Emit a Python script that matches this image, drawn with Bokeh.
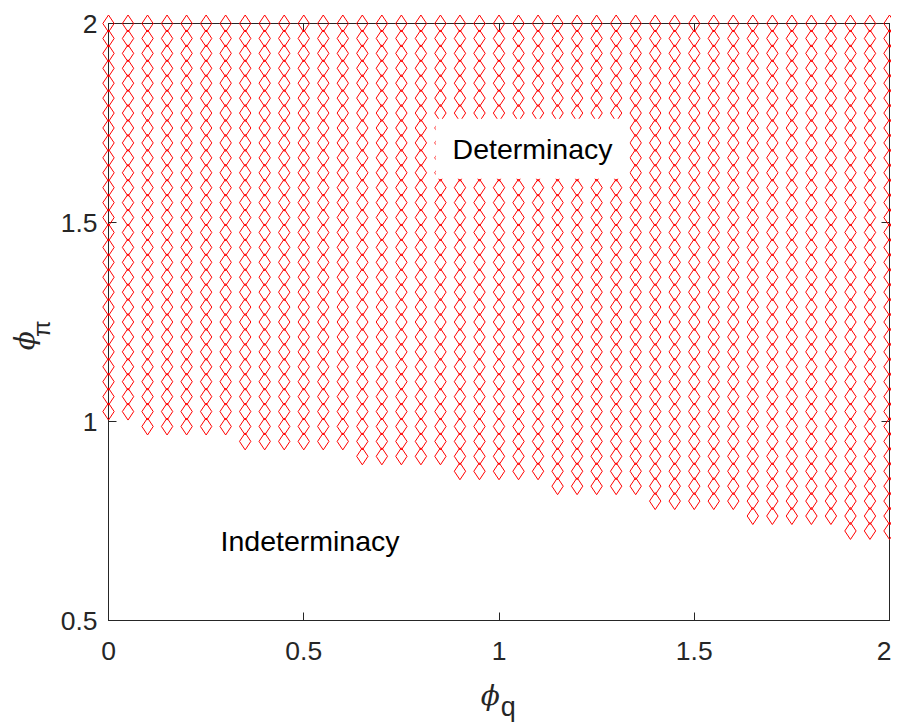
import numpy as np
from bokeh.plotting import figure
from bokeh.models import Label, LinearAxis, FixedTicker, Range1d
from bokeh.core.properties import value
from bokeh.embed import file_html
from bokeh.resources import INLINE

# parameter grid (phi_q on x, phi_pi on y)
phi_q_grid = [0.0, 0.05, 0.1, 0.15, 0.2, 0.25, 0.3, 0.35, 0.4, 0.45, 0.5,
              0.55, 0.6, 0.65, 0.7, 0.75, 0.8, 0.85, 0.9, 0.95, 1.0,
              1.05, 1.1, 1.15, 1.2, 1.25, 1.3, 1.35, 1.4, 1.45, 1.5,
              1.55, 1.6, 1.65, 1.7, 1.75, 1.8, 1.85, 1.9, 1.95, 2.0]
phi_pi_grid = [0.5, 0.5375, 0.575, 0.6125, 0.65, 0.6875, 0.725, 0.7625, 0.8,
               0.8375, 0.875, 0.9125, 0.95, 0.9875, 1.025, 1.0625, 1.1,
               1.1375, 1.175, 1.2125, 1.25, 1.2875, 1.325, 1.3625, 1.4,
               1.4375, 1.475, 1.5125, 1.55, 1.5875, 1.625, 1.6625, 1.7,
               1.7375, 1.775, 1.8125, 1.85, 1.8875, 1.925, 1.9625, 2.0]
# lowest determinate phi_pi for each phi_q column
lowest_determinate_phi_pi = [1.025, 1.025,
                             0.9875, 0.9875, 0.9875, 0.9875, 0.9875,
                             0.95, 0.95, 0.95, 0.95, 0.95, 0.95,
                             0.9125, 0.9125, 0.9125, 0.9125, 0.9125,
                             0.875, 0.875, 0.875, 0.875, 0.875,
                             0.8375, 0.8375, 0.8375, 0.8375, 0.8375,
                             0.8, 0.8, 0.8, 0.8, 0.8,
                             0.7625, 0.7625, 0.7625, 0.7625, 0.7625,
                             0.725, 0.725, 0.725]

x_ticks = [0, 0.5, 1, 1.5, 2]
x_tick_labels = ["0", "0.5", "1", "1.5", "2"]
y_ticks = [0.5, 1, 1.5, 2]
y_tick_labels = ["0.5", "1", "1.5", "2"]

xs, ys = [], []
for q, lo in zip(phi_q_grid, lowest_determinate_phi_pi):
    for pi_v in phi_pi_grid:
        if pi_v >= lo - 1e-9:
            xs.append(q)
            ys.append(pi_v)

AX = "#262626"
FONT = "Liberation Sans"

p = figure(width=891, height=722, x_range=Range1d(0, 2), y_range=Range1d(0.5, 2),
           output_backend="svg", toolbar_location=None,
           min_border_left=108, min_border_right=2, min_border_top=23,
           min_border_bottom=102)
p.grid.visible = False
p.outline_line_color = AX
p.outline_line_width = 1

p.scatter(xs, ys, marker="diamond", size=17, fill_color=None,
          line_color="#FF0000", line_width=1, level="annotation")

def style_axis(ax, ticks, labels, show_labels=True):
    ax.ticker = FixedTicker(ticks=ticks)
    ax.major_label_overrides = {t: (l if show_labels else "") for t, l in zip(ticks, labels)}
    ax.axis_line_color = AX
    ax.axis_line_width = 1
    ax.major_tick_line_color = AX
    ax.major_tick_in = 8
    ax.major_tick_out = 0
    ax.minor_tick_line_color = None
    ax.major_label_text_font = FONT
    ax.major_label_text_font_size = "26.5px"
    ax.major_label_text_color = AX

style_axis(p.xaxis[0], x_ticks, x_tick_labels)
style_axis(p.yaxis[0], y_ticks, y_tick_labels)
p.xaxis[0].major_label_standoff = 21
p.yaxis[0].major_label_standoff = 11

right = LinearAxis()
style_axis(right, y_ticks, y_tick_labels, show_labels=False)
right.major_label_standoff = 0
p.add_layout(right, "right")
top = LinearAxis()
style_axis(top, x_ticks, x_tick_labels, show_labels=False)
top.major_label_standoff = 0
p.add_layout(top, "above")

det = Label(x=1.086, y=1.685, text="Determinacy", text_align="center",
            text_baseline="middle", text_font=FONT, text_font_size="28.5px",
            text_color="black", background_fill_color="white",
            padding=dict(left=17, right=17, top=14, bottom=14), level="overlay")
p.add_layout(det)
ind = Label(x=0.287, y=0.7, text="Indeterminacy", text_align="left",
            text_baseline="middle", text_font=FONT, text_font_size="28.5px",
            text_color="black", level="overlay")
p.add_layout(ind)

# axis labels (phi with subscripts), drawn as text glyphs outside the frame
p.text(x=[0.978], y=[0.3117], text=["ϕ"], text_align="center", text_baseline="middle",
       text_font=value("DejaVu Serif"), text_font_style="italic", text_font_size="28px",
       text_color=AX, level="annotation")
p.text(x=[1.024], y=[0.283], text=["q"], text_align="center", text_baseline="middle",
       text_font=value(FONT), text_font_size="27px", text_color=AX, level="annotation")
p.text(x=[-0.215], y=[1.203], text=["ϕ"], text_align="center", text_baseline="middle",
       angle=np.pi / 2, text_font=value("DejaVu Serif"), text_font_style="italic",
       text_font_size="28px", text_color=AX, level="annotation")
p.text(x=[-0.1716], y=[1.2333], text=["π"], text_align="center", text_baseline="middle",
       angle=np.pi / 2, text_font=value(FONT), text_font_size="24px",
       text_color=AX, level="annotation")

open("out.html", "w").write(file_html(p, INLINE))
